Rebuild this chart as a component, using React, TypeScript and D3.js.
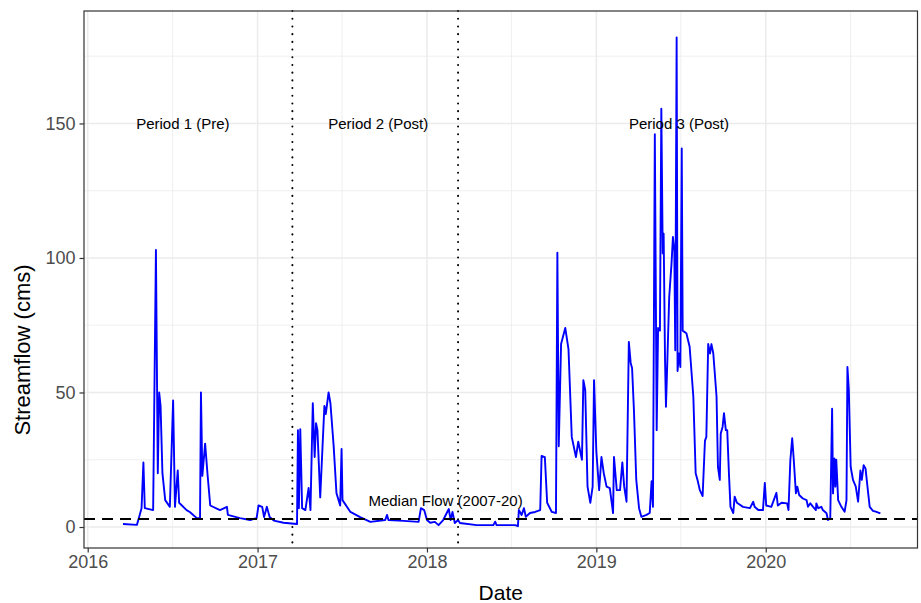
import React, { useEffect, useRef } from "react";
import * as d3 from "d3";

// daily streamflow (cms)
const flow2016 = [
  ["2016-03-17", 1.1], ["2016-04-16", 0.8], ["2016-04-21", 3.8], ["2016-04-26", 7], ["2016-04-30", 24],
  ["2016-05-03", 7], ["2016-05-21", 6.3], ["2016-05-27", 103], ["2016-05-31", 20], ["2016-06-03", 50],
  ["2016-06-06", 45], ["2016-06-10", 20], ["2016-06-16", 10], ["2016-06-26", 7.5], ["2016-07-03", 47],
  ["2016-07-07", 7.5], ["2016-07-13", 21], ["2016-07-16", 9], ["2016-08-01", 6.3], ["2016-08-08", 5.6],
  ["2016-08-23", 3.3], ["2016-08-30", 3.3], ["2016-09-01", 50], ["2016-09-04", 19], ["2016-09-10", 31],
  ["2016-09-15", 20], ["2016-09-21", 8], ["2016-10-12", 6.3], ["2016-10-27", 7.5], ["2016-10-29", 4.5],
  ["2016-11-24", 3.3], ["2016-12-16", 2.6], ["2016-12-30", 3.3],
];
const flow2017 = [
  ["2017-01-03", 8], ["2017-01-11", 7.5], ["2017-01-15", 3.7], ["2017-01-21", 7.5], ["2017-01-27", 3.7],
  ["2017-02-05", 2.4], ["2017-02-26", 1.6], ["2017-03-27", 1.1], ["2017-03-29", 36], ["2017-03-31", 7],
  ["2017-04-03", 36.4], ["2017-04-07", 7], ["2017-04-14", 6.3], ["2017-04-21", 14.5], ["2017-04-25", 6.3],
  ["2017-04-30", 46], ["2017-05-04", 26], ["2017-05-07", 38.6], ["2017-05-10", 36], ["2017-05-16", 11],
  ["2017-05-21", 30], ["2017-05-25", 45], ["2017-05-28", 42], ["2017-06-03", 50], ["2017-06-07", 46],
  ["2017-06-14", 30], ["2017-06-20", 12.6], ["2017-06-28", 8], ["2017-07-01", 29], ["2017-07-03", 10],
  ["2017-07-20", 5.6], ["2017-08-10", 3.7], ["2017-09-01", 1.9], ["2017-10-03", 2.6], ["2017-10-07", 4.5],
  ["2017-10-10", 2.6], ["2017-11-12", 2.3], ["2017-12-14", 1.9], ["2017-12-19", 7], ["2017-12-26", 6.3],
];
const flow2018 = [
  ["2018-01-01", 2.6], ["2018-01-08", 1.6], ["2018-01-18", 1.9], ["2018-01-26", 0.7], ["2018-02-05", 2.6],
  ["2018-02-17", 6.7], ["2018-02-21", 2.6], ["2018-02-25", 5.6], ["2018-03-02", 1.5], ["2018-03-09", 2.6],
  ["2018-03-13", 1.5], ["2018-04-18", 0.7], ["2018-05-24", 0.7], ["2018-05-28", 2], ["2018-05-31", 0.7],
  ["2018-07-10", 0.7], ["2018-07-16", 0.3], ["2018-07-18", 6.3], ["2018-07-24", 4.5], ["2018-07-29", 7],
  ["2018-08-02", 3.8], ["2018-08-11", 5.2], ["2018-08-22", 5.6], ["2018-09-02", 6.3], ["2018-09-05", 26.4],
  ["2018-09-12", 26], ["2018-09-17", 9], ["2018-09-27", 5.6], ["2018-10-06", 5.2], ["2018-10-09", 102],
  ["2018-10-12", 30], ["2018-10-17", 68], ["2018-10-26", 74], ["2018-11-02", 66], ["2018-11-09", 33.5],
  ["2018-11-18", 26], ["2018-11-23", 31.7], ["2018-12-01", 25], ["2018-12-04", 54.6], ["2018-12-08", 51],
  ["2018-12-13", 15], ["2018-12-19", 9], ["2018-12-24", 15], ["2018-12-27", 54.6],
];
const flow2019 = [
  ["2019-01-01", 28], ["2019-01-07", 13.7], ["2019-01-12", 26], ["2019-01-17", 20], ["2019-01-23", 15],
  ["2019-01-30", 14.5], ["2019-02-06", 5.2], ["2019-02-08", 26], ["2019-02-14", 13.7], ["2019-02-21", 13.7],
  ["2019-02-26", 24], ["2019-03-02", 15], ["2019-03-07", 9.4], ["2019-03-12", 68.8], ["2019-03-16", 61],
  ["2019-03-19", 59], ["2019-03-23", 43.4], ["2019-03-28", 17.5], ["2019-04-03", 7], ["2019-04-08", 3.8],
  ["2019-04-19", 4.5], ["2019-04-26", 5.2], ["2019-04-30", 17], ["2019-05-03", 7.5], ["2019-05-07", 146],
  ["2019-05-11", 36], ["2019-05-14", 74], ["2019-05-18", 73], ["2019-05-21", 155.5], ["2019-05-24", 101.7],
  ["2019-05-26", 109], ["2019-05-29", 62], ["2019-05-31", 44.7], ["2019-06-03", 62], ["2019-06-07", 85.5],
  ["2019-06-12", 98], ["2019-06-15", 107.8], ["2019-06-18", 102.8], ["2019-06-20", 65.7], ["2019-06-23", 182],
  ["2019-06-25", 58], ["2019-06-28", 64.5], ["2019-07-01", 59.5], ["2019-07-04", 140.7], ["2019-07-06", 73],
  ["2019-07-14", 72], ["2019-07-21", 67], ["2019-07-29", 48.4], ["2019-08-03", 20], ["2019-08-07", 17.5],
  ["2019-08-12", 13.7], ["2019-08-18", 11.5], ["2019-08-23", 32], ["2019-08-26", 33.5], ["2019-08-30", 68],
  ["2019-09-03", 64.5], ["2019-09-06", 68], ["2019-09-10", 64.5], ["2019-09-17", 48.4], ["2019-09-20", 22.4],
  ["2019-09-24", 17.5], ["2019-09-26", 34.8], ["2019-09-30", 37.2], ["2019-10-03", 42.3], ["2019-10-07", 36],
  ["2019-10-10", 36], ["2019-10-14", 18.7], ["2019-10-17", 7.5], ["2019-10-23", 5.2], ["2019-10-26", 11.3],
  ["2019-10-31", 9], ["2019-11-13", 7.5], ["2019-11-28", 7], ["2019-12-05", 9.4], ["2019-12-08", 7.5],
  ["2019-12-16", 6.3], ["2019-12-26", 6.3], ["2019-12-30", 16.4],
];
const flow2020 = [
  ["2020-01-02", 8], ["2020-01-13", 7.5], ["2020-01-24", 12.7], ["2020-01-27", 8], ["2020-02-04", 9],
  ["2020-02-16", 8.8], ["2020-02-19", 6.3], ["2020-02-23", 24.8], ["2020-02-27", 33], ["2020-03-01", 26],
  ["2020-03-06", 12.5], ["2020-03-09", 15], ["2020-03-13", 11.9], ["2020-03-21", 10.6], ["2020-03-29", 10],
  ["2020-04-01", 7.5], ["2020-04-06", 8.8], ["2020-04-12", 7.5], ["2020-04-18", 6.3], ["2020-04-19", 8.8],
  ["2020-04-23", 7], ["2020-04-30", 7.5], ["2020-05-03", 6.3], ["2020-05-11", 5.1], ["2020-05-14", 2.6],
  ["2020-05-19", 3.2], ["2020-05-23", 44], ["2020-05-25", 12.5], ["2020-05-28", 25.5], ["2020-05-30", 15],
  ["2020-06-01", 25], ["2020-06-05", 10], ["2020-06-12", 7.5], ["2020-06-19", 5.7], ["2020-06-23", 10],
  ["2020-06-25", 59.5], ["2020-06-28", 51], ["2020-07-02", 22.4], ["2020-07-07", 17.5], ["2020-07-13", 15],
  ["2020-07-18", 9.4], ["2020-07-23", 21], ["2020-07-26", 17.5], ["2020-07-30", 23], ["2020-08-03", 21.8],
  ["2020-08-08", 13.7], ["2020-08-12", 7.5], ["2020-08-19", 6], ["2020-08-25", 5.7], ["2020-09-04", 5.1],
];

const yBreaks = [0, 50, 100, 150];
const yMinorBreaks = [25, 75, 125, 175];
const xBreaks = ["2016-01-01", "2017-01-01", "2018-01-01", "2019-01-01", "2020-01-01"];
const xMinorBreaks = ["2016-07-02", "2017-07-02", "2018-07-02", "2019-07-02", "2020-07-02"];
const periodStarts = ["2017-03-17", "2018-03-09"];
const periodLabels = ["Period 1 (Pre)", "Period 2 (Post)", "Period 3 (Post)"];
const periodLabelDates = ["2016-07-24", "2017-09-18", "2019-06-28"];
const periodLabelFlow = 150;
const medianFlow = 3.0;
const medianLabel = "Median Flow (2007-20)";
const medianLabelDate = "2018-02-10";
const medianLabelFlow = 9.8;

const parse = d3.utcParse("%Y-%m-%d");

export default function App() {
  const svgRef = useRef(null);

  useEffect(() => {
    const width = 921;
    const height = 603;
    const panel = { left: 84, right: 917.5, top: 11, bottom: 548 };
    const font = "'Liberation Sans', Arial, Helvetica, sans-serif";

    const data = [...flow2016, ...flow2017, ...flow2018, ...flow2019, ...flow2020].map(
      ([d, v]) => ({ date: parse(d), flow: v })
    );

    const svg = d3
      .select(svgRef.current)
      .attr("width", width)
      .attr("height", height)
      .style("position", "absolute")
      .style("left", 0)
      .style("top", 0)
      .style("background", "white");
    svg.selectAll("*").remove();

    const x = d3
      .scaleUtc()
      .domain([parse("2015-12-24"), parse("2020-11-23")])
      .range([panel.left, panel.right]);
    const y = d3.scaleLinear().domain([-7.8, 191.8]).range([panel.bottom, panel.top]);

    svg
      .append("rect")
      .attr("x", panel.left)
      .attr("y", panel.top)
      .attr("width", panel.right - panel.left)
      .attr("height", panel.bottom - panel.top)
      .attr("fill", "white");

    // grid
    const grid = svg.append("g").attr("stroke", "#EBEBEB");
    grid
      .selectAll("line.ymin")
      .data(yMinorBreaks)
      .join("line")
      .attr("x1", panel.left)
      .attr("x2", panel.right)
      .attr("y1", (d) => y(d))
      .attr("y2", (d) => y(d))
      .attr("stroke-width", 0.8);
    grid
      .selectAll("line.xmin")
      .data(xMinorBreaks)
      .join("line")
      .attr("x1", (d) => x(parse(d)))
      .attr("x2", (d) => x(parse(d)))
      .attr("y1", panel.top)
      .attr("y2", panel.bottom)
      .attr("stroke-width", 0.8);
    grid
      .selectAll("line.ymaj")
      .data(yBreaks)
      .join("line")
      .attr("x1", panel.left)
      .attr("x2", panel.right)
      .attr("y1", (d) => y(d))
      .attr("y2", (d) => y(d))
      .attr("stroke-width", 1.5);
    grid
      .selectAll("line.xmaj")
      .data(xBreaks)
      .join("line")
      .attr("x1", (d) => x(parse(d)))
      .attr("x2", (d) => x(parse(d)))
      .attr("y1", panel.top)
      .attr("y2", panel.bottom)
      .attr("stroke-width", 1.5);

    // streamflow line
    const line = d3
      .line()
      .x((d) => x(d.date))
      .y((d) => y(d.flow));
    svg
      .append("path")
      .datum(data)
      .attr("d", line)
      .attr("fill", "none")
      .attr("stroke", "#0000FF")
      .attr("stroke-width", 1.9)
      .attr("stroke-linejoin", "round");

    // median flow
    svg
      .append("line")
      .attr("x1", panel.left)
      .attr("x2", panel.right)
      .attr("y1", y(medianFlow))
      .attr("y2", y(medianFlow))
      .attr("stroke", "black")
      .attr("stroke-width", 2)
      .attr("stroke-dasharray", "11,7");

    // period boundaries
    svg
      .selectAll("line.period")
      .data(periodStarts)
      .join("line")
      .attr("x1", (d) => x(parse(d)))
      .attr("x2", (d) => x(parse(d)))
      .attr("y1", panel.top)
      .attr("y2", panel.bottom)
      .attr("stroke", "black")
      .attr("stroke-width", 2)
      .attr("stroke-linecap", "round")
      .attr("stroke-dasharray", "0.1,7.6");

    svg
      .selectAll("text.period")
      .data(periodLabels)
      .join("text")
      .attr("x", (d, i) => x(parse(periodLabelDates[i])))
      .attr("y", y(periodLabelFlow))
      .attr("text-anchor", "middle")
      .attr("dominant-baseline", "central")
      .attr("font-family", font)
      .attr("font-size", 15)
      .attr("fill", "black")
      .text((d) => d);

    svg
      .append("text")
      .attr("x", x(parse(medianLabelDate)))
      .attr("y", y(medianLabelFlow))
      .attr("text-anchor", "middle")
      .attr("dominant-baseline", "central")
      .attr("font-family", font)
      .attr("font-size", 15)
      .attr("fill", "black")
      .text(medianLabel);

    // panel border
    svg
      .append("rect")
      .attr("x", panel.left)
      .attr("y", panel.top)
      .attr("width", panel.right - panel.left)
      .attr("height", panel.bottom - panel.top)
      .attr("fill", "none")
      .attr("stroke", "#333333")
      .attr("stroke-width", 1.2);

    // axes
    const xAxis = svg
      .append("g")
      .attr("transform", `translate(0, ${panel.bottom})`)
      .call(
        d3
          .axisBottom(x)
          .tickValues(xBreaks.map(parse))
          .tickFormat(d3.utcFormat("%Y"))
          .tickSize(4.5)
          .tickPadding(3)
      );
    const yAxis = svg
      .append("g")
      .attr("transform", `translate(${panel.left}, 0)`)
      .call(d3.axisLeft(y).tickValues(yBreaks).tickSize(4.5).tickPadding(4));

    [xAxis, yAxis].forEach((g) => {
      g.select(".domain").remove();
      g.selectAll(".tick line").attr("stroke", "#333333").attr("stroke-width", 1.2);
      g.selectAll(".tick text")
        .attr("fill", "#4D4D4D")
        .attr("font-family", font)
        .attr("font-size", 18);
    });

    svg
      .append("text")
      .attr("x", (panel.left + panel.right) / 2)
      .attr("y", 592)
      .attr("text-anchor", "middle")
      .attr("dominant-baseline", "central")
      .attr("font-family", font)
      .attr("font-size", 21)
      .text("Date");

    // y title sits lower than the panel centre in the reference
    svg
      .append("text")
      .attr("transform", `translate(22, 350) rotate(-90)`)
      .attr("text-anchor", "middle")
      .attr("dominant-baseline", "central")
      .attr("font-family", font)
      .attr("font-size", 22)
      .text("Streamflow (cms)");
  }, []);

  return (
    <div>
      <svg ref={svgRef}></svg>
    </div>
  );
}
